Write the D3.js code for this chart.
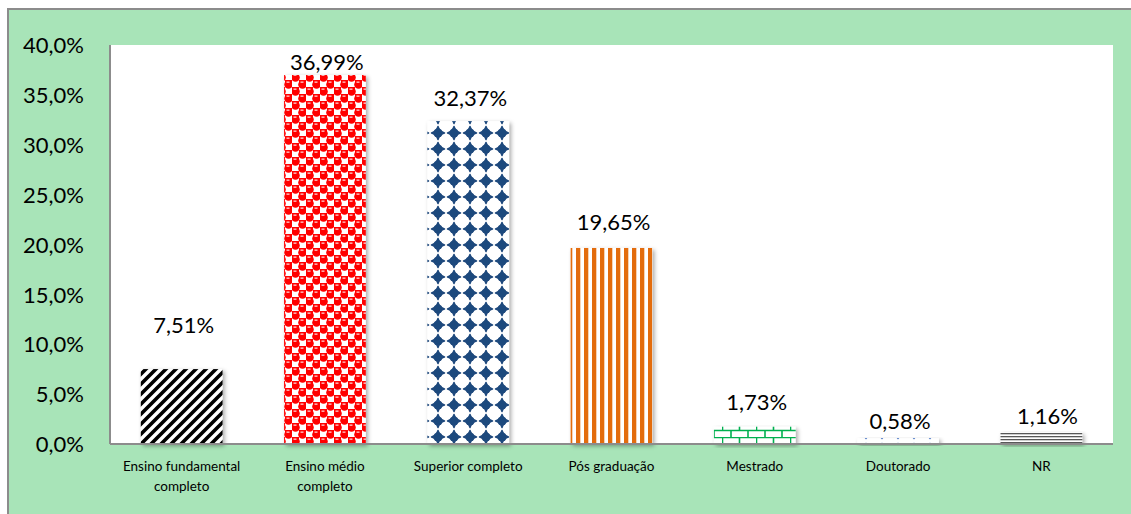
<!DOCTYPE html>
<html>
<head>
<meta charset="utf-8">
<script src="https://cdn.jsdelivr.net/npm/d3@7"></script>
<style>
  body { margin: 0; background: #fff; }
  text { font-family: Lato, "Open Sans", sans-serif; fill: #000; }
</style>
</head>
<body>
<div id="chart"></div>
<script>
// data
var categories = ["Ensino fundamental completo", "Ensino médio completo", "Superior completo",
  "Pós graduação", "Mestrado", "Doutorado", "NR"];
var values = [7.51, 36.99, 32.37, 19.65, 1.73, 0.58, 1.16];
var valueLabels = ["7,51%", "36,99%", "32,37%", "19,65%", "1,73%", "0,58%", "1,16%"];
var yTicks = [0, 5, 10, 15, 20, 25, 30, 35, 40];
var categoryLines = [["Ensino fundamental", "completo"], ["Ensino médio", "completo"],
  ["Superior completo"], ["Pós graduação"], ["Mestrado"], ["Doutorado"], ["NR"]];

// labels were dragged around by hand in the original, so lift differs per bar
var labelLift = [36, 5, 15, 18, 17, 9, 8];

var W = 1131, H = 514;
var margin = {top: 45, right: 18, bottom: 70, left: 110};
var width = W - margin.left - margin.right,
    height = H - margin.top - margin.bottom;

var svg = d3.select("#chart").append("svg")
  .attr("width", W)
  .attr("height", H);

var defs = svg.append("defs");

var shadow = defs.append("filter").attr("id", "shadow")
  .attr("x", "-10%").attr("y", "-10%").attr("width", "130%").attr("height", "130%");
shadow.append("feDropShadow")
  .attr("dx", 2).attr("dy", 2).attr("stdDeviation", 2)
  .attr("flood-color", "#000").attr("flood-opacity", 0.35);

function pattern(id, w, h) {
  var p = defs.append("pattern").attr("id", id)
    .attr("patternUnits", "userSpaceOnUse")
    .attr("width", w).attr("height", h);
  p.append("rect").attr("width", w).attr("height", h).attr("fill", "#fff");
  return p;
}

// black wide upward diagonal
var p0 = pattern("p0", 10, 10);
p0.append("path").attr("d", "M-5,5 L5,-5 M0,10 L10,0 M5,15 L15,5")
  .attr("stroke", "#000").attr("stroke-width", 3.6);

// red checker with round blobs
var p1 = pattern("p1", 14, 14);
[[0, 0], [7, 7]].forEach(function (o) {
  p1.append("rect").attr("x", o[0]).attr("y", o[1]).attr("width", 7).attr("height", 7).attr("fill", "#ff0000");
  p1.append("circle").attr("cx", o[0] + 3.5).attr("cy", o[1] + 4.5).attr("r", 4.3).attr("fill", "#ff0000");
  p1.append("rect").attr("x", o[0] + 1.5).attr("y", o[1] + 1.5).attr("width", 3).attr("height", 1.3).attr("fill", "#ffd0d0");
});
p1.append("circle").attr("cx", 10.5).attr("cy", -2.5).attr("r", 4.3).attr("fill", "#ff0000");

// blue rounded four-point stars
var p2 = pattern("p2", 16, 16);
p2.append("path")
  .attr("d", "M8,1.5 C9,5 11,7 14.5,8 C11,9 9,11 8,14.5 C7,11 5,9 1.5,8 C5,7 7,5 8,1.5 Z")
  .attr("fill", "#1f497d").attr("stroke", "#1f497d").attr("stroke-width", 1.5).attr("stroke-linejoin", "round");
p2.append("circle").attr("cx", 8).attr("cy", 8).attr("r", 4.6).attr("fill", "#1f497d");

// orange vertical stripes
var p3 = pattern("p3", 8, 8);
p3.append("rect").attr("x", 2).attr("width", 4.3).attr("height", 8).attr("fill", "#e36c09");

// green bricks
var p4 = pattern("p4", 34, 14);
p4.append("path")
  .attr("d", "M0,0.5 H34 M0,7.5 H34 M0.5,0 V7 M17.5,0 V7 M9,7 V14 M26,7 V14")
  .attr("stroke", "#00b050").attr("stroke-width", 1.6).attr("fill", "none");

// blue dots
var p5 = pattern("p5", 16, 6);
p5.append("circle").attr("cx", 4).attr("cy", 3).attr("r", 1.2).attr("fill", "#4472c4");

// gray narrow horizontals
var p6 = pattern("p6", 4, 3);
p6.append("rect").attr("y", 1).attr("width", 4).attr("height", 1.3).attr("fill", "#595959");

// outer frame (clipped right & bottom in the picture)
svg.append("rect")
  .attr("x", 8).attr("y", 9)
  .attr("width", W + 10).attr("height", H + 10)
  .attr("fill", "#a8e4b8")
  .attr("stroke", "#8c8c8c").attr("stroke-width", 2);

var g = svg.append("g").attr("transform", "translate(" + margin.left + "," + margin.top + ")");

var x = d3.scaleBand().domain(categories).range([0, width]).paddingInner(0.43).paddingOuter(0.215);
var y = d3.scaleLinear().domain([0, 40]).range([height, 0]);

g.append("rect").attr("width", width).attr("height", height).attr("fill", "#fff");

var yAxis = g.append("g").call(d3.axisLeft(y).tickValues(yTicks).tickSize(0).tickPadding(26)
  .tickFormat(function (d) { return d3.format(".1f")(d).replace(".", ",") + "%"; }));
yAxis.select(".domain").remove();
yAxis.selectAll("text").attr("font-size", 22).attr("dy", "0.35em");

g.selectAll(".bar").data(values).enter().append("rect")
  .attr("class", "bar")
  .attr("x", function (d, i) { return x(categories[i]); })
  .attr("y", function (d) { return y(d); })
  .attr("width", x.bandwidth())
  .attr("height", function (d) { return height - y(d); })
  .attr("fill", function (d, i) { return "url(#p" + i + ")"; })
  .attr("filter", "url(#shadow)");

// axis lines
g.append("line").attr("x1", 0).attr("x2", 0).attr("y1", 0).attr("y2", height)
  .attr("stroke", "#8c8c8c").attr("stroke-width", 2);
g.append("line").attr("x1", 0).attr("x2", width).attr("y1", height).attr("y2", height)
  .attr("stroke", "#8c8c8c").attr("stroke-width", 2);

g.selectAll(".vlabel").data(values).enter().append("text")
  .attr("class", "vlabel")
  .attr("x", function (d, i) { return x(categories[i]) + x.bandwidth() / 2 + (i === 6 ? 6 : 2); })
  .attr("y", function (d, i) { return y(d) - labelLift[i]; })
  .attr("text-anchor", "middle")
  .attr("font-size", 22)
  .text(function (d, i) { return valueLabels[i]; });

var xl = g.selectAll(".xlabel").data(categories).enter().append("text")
  .attr("class", "xlabel")
  .attr("text-anchor", "middle")
  .attr("font-size", 13.5)
  .attr("transform", function (d) { return "translate(" + (x(d) + x.bandwidth() / 2) + "," + (height + 27) + ")"; });
xl.selectAll("tspan").data(function (d, i) { return categoryLines[i]; }).enter().append("tspan")
  .attr("x", 0)
  .attr("dy", function (d, i) { return i === 0 ? 0 : 20; })
  .text(function (d) { return d; });
</script>
</body>
</html>
